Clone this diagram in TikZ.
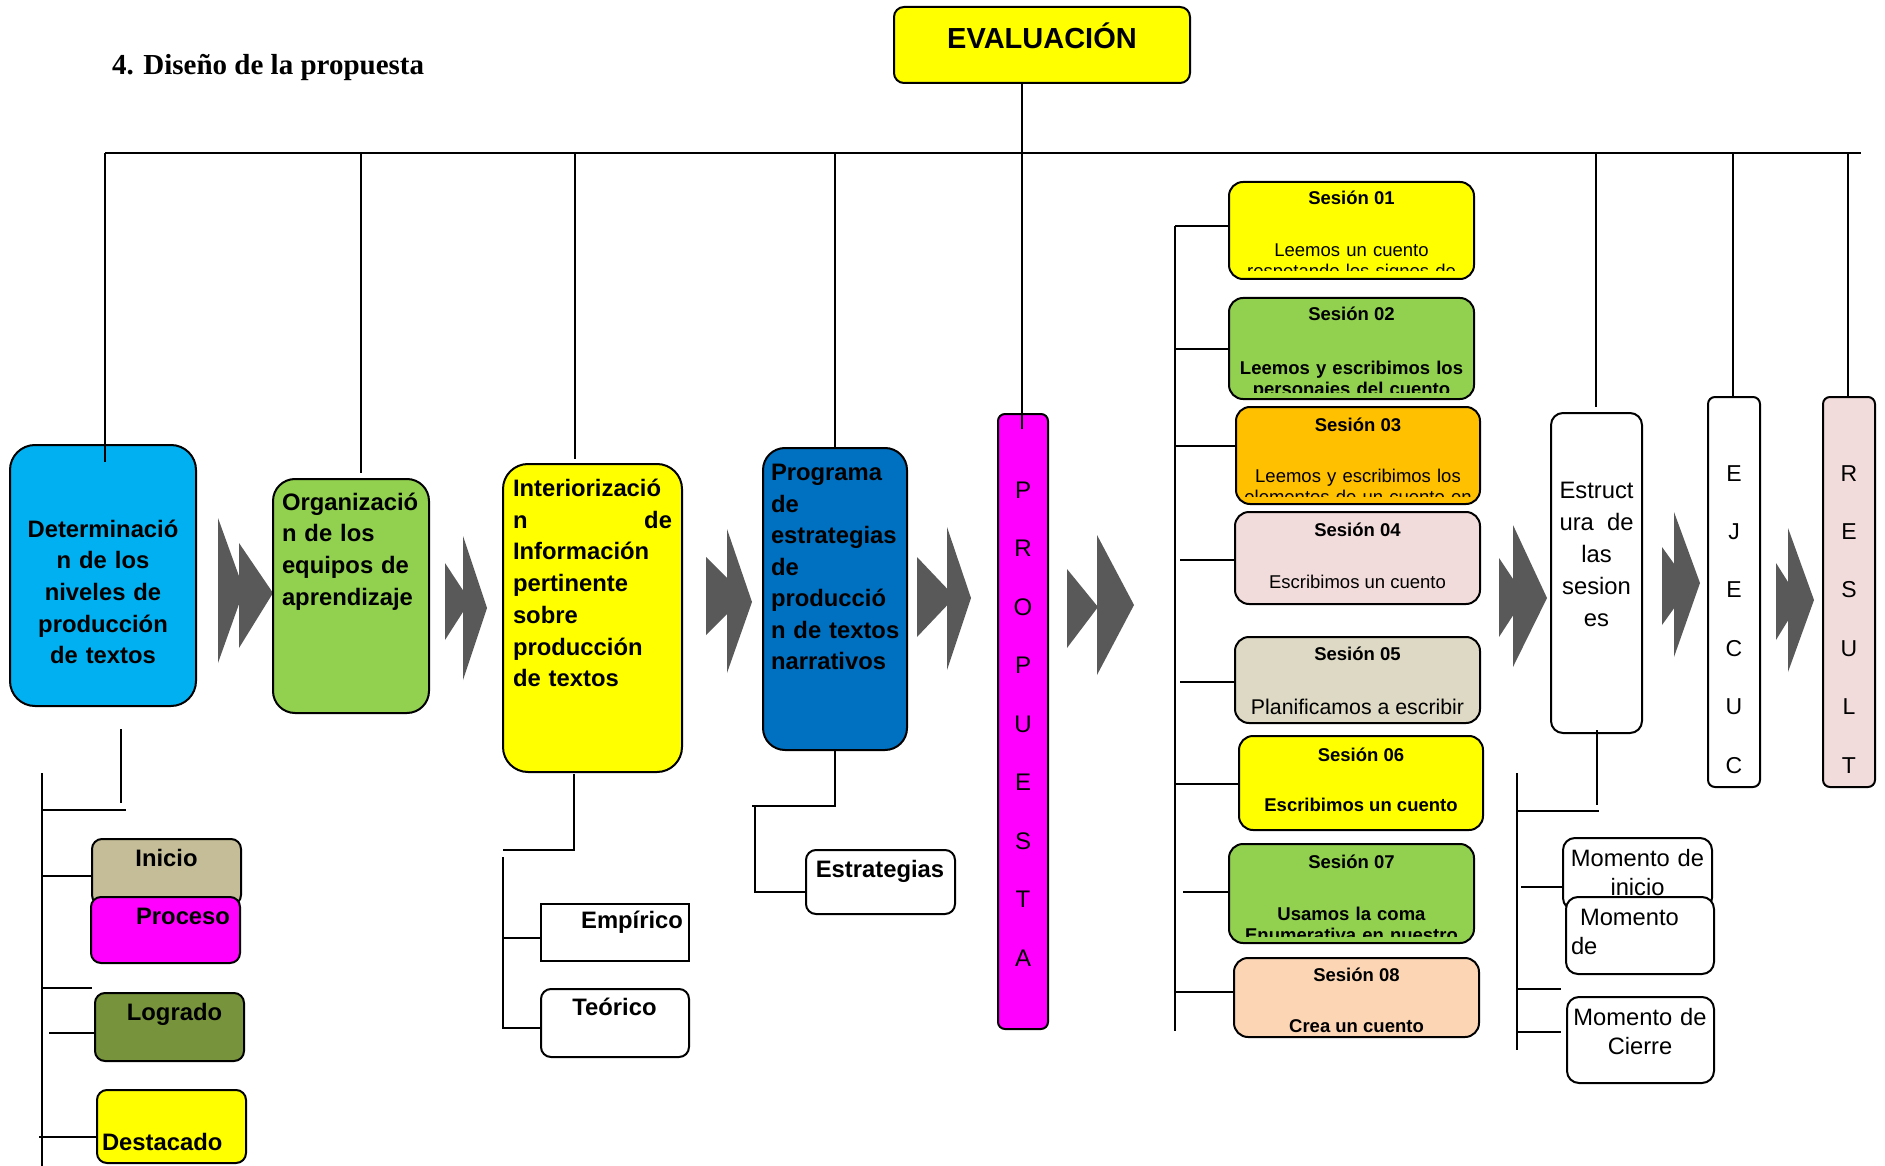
\documentclass[tikz,border=0pt]{standalone}
\usepackage{fontspec}
\setmainfont{Liberation Sans}
\newfontfamily\serifft{Liberation Serif}
\definecolor{cblue}{HTML}{00B0F0}
\definecolor{cgreen}{HTML}{92D050}
\definecolor{cyel}{HTML}{FFFF00}
\definecolor{cdblue}{HTML}{0070C0}
\definecolor{cmag}{HTML}{FF00FF}
\definecolor{corange}{HTML}{FFC000}
\definecolor{cpink}{HTML}{F2DCDB}
\definecolor{ctan}{HTML}{DDD9C4}
\definecolor{cpeach}{HTML}{FCD5B5}
\definecolor{ckhaki}{HTML}{C4BD97}
\definecolor{colive}{HTML}{77933C}
\definecolor{cgray}{HTML}{595959}
\begin{document}
\begin{tikzpicture}[x=1pt,y=-1pt,
  bx/.style={draw=black, line width=2pt, inner sep=0pt, outer sep=0pt, anchor=north west},
  ln/.style={draw=black, line width=2pt},
  chev/.style={fill=cgray},
  tx/.style={inner sep=0pt, outer sep=0pt},
  bigb/.style={font=\fontsize{23.8}{31.7}\selectfont\bfseries},
  bigr/.style={font=\fontsize{23.7}{29}\selectfont},
  sesb/.style={font=\fontsize{18.5}{21}\selectfont\bfseries},
  sesr/.style={font=\fontsize{18.5}{21}\selectfont},
]
\useasboundingbox (0,0) rectangle (1885,1166);

% ---------- chevrons ----------
\fill[chev] (218,518) -- (244,590) -- (218,663) -- cycle;
\fill[chev] (239,543) -- (273,593) -- (239,648) -- cycle;
\fill[chev] (445,563) -- (470,601) -- (445,640) -- cycle;
\fill[chev] (463,536) -- (487,608) -- (463,680) -- cycle;
\fill[chev] (706,557) -- (745,596) -- (706,635) -- cycle;
\fill[chev] (727,529) -- (752,602) -- (727,673) -- cycle;
\fill[chev] (917,557) -- (955,597) -- (917,637) -- cycle;
\fill[chev] (947,527) -- (971,598) -- (947,670) -- cycle;
\fill[chev] (1067,569) -- (1098,607) -- (1067,648) -- cycle;
\fill[chev] (1097,535) -- (1134,605) -- (1097,675) -- cycle;
\fill[chev] (1499,558) -- (1525,597) -- (1499,637) -- cycle;
\fill[chev] (1513,525) -- (1547,598) -- (1513,667) -- cycle;
\fill[chev] (1662,547) -- (1690,586) -- (1662,625) -- cycle;
\fill[chev] (1674,512) -- (1700,583) -- (1674,657) -- cycle;
\fill[chev] (1776,563) -- (1800,601) -- (1776,640) -- cycle;
\fill[chev] (1788,528) -- (1814,600) -- (1788,672) -- cycle;

% ---------- boxes ----------
\node[bx, rounded corners=10pt, fill=cyel, minimum width=296pt, minimum height=76pt] (eval) at (894,7) {};
\node[bx, rounded corners=25pt, fill=cblue, minimum width=186pt, minimum height=261pt] (b1) at (10,445) {};
\node[bx, rounded corners=22pt, fill=cgreen, minimum width=156pt, minimum height=234pt] (b2) at (273,479) {};
\node[bx, rounded corners=25pt, fill=cyel, minimum width=179pt, minimum height=308pt] (b3) at (503,464) {};
\node[bx, rounded corners=22pt, fill=cdblue, minimum width=144pt, minimum height=302pt] (b4) at (763,448) {};
\node[bx, rounded corners=7pt, fill=cmag, minimum width=50pt, minimum height=615pt] (prop) at (998,414) {};

\node[bx, rounded corners=14pt, fill=cyel, minimum width=245pt, minimum height=97pt] (s1) at (1229,182) {};
\node[bx, rounded corners=14pt, fill=cgreen, minimum width=245pt, minimum height=101pt] (s2) at (1229,298) {};
\node[bx, rounded corners=14pt, fill=corange, minimum width=244pt, minimum height=97pt] (s3) at (1236,407) {};
\node[bx, rounded corners=14pt, fill=cpink, minimum width=245pt, minimum height=92pt] (s4) at (1235,512) {};
\node[bx, rounded corners=14pt, fill=ctan, minimum width=245pt, minimum height=86pt] (s5) at (1235,637) {};
\node[bx, rounded corners=14pt, fill=cyel, minimum width=244pt, minimum height=94pt] (s6) at (1239,736) {};
\node[bx, rounded corners=14pt, fill=cgreen, minimum width=245pt, minimum height=99pt] (s7) at (1229,844) {};
\node[bx, rounded corners=14pt, fill=cpeach, minimum width=245pt, minimum height=79pt] (s8) at (1234,958) {};

\node[bx, rounded corners=12pt, fill=white, minimum width=91pt, minimum height=320pt] (est) at (1551,413) {};
\node[bx, rounded corners=7pt, fill=white, minimum width=52pt, minimum height=390pt] (ej) at (1708,397) {};
\node[bx, rounded corners=7pt, fill=cpink, minimum width=52pt, minimum height=390pt] (res) at (1823,397) {};

\node[bx, rounded corners=10pt, fill=ckhaki, minimum width=149pt, minimum height=66pt] (ini) at (92,839) {};
\node[bx, rounded corners=10pt, fill=cmag, minimum width=149pt, minimum height=66pt] (pro) at (91,897) {};
\node[bx, rounded corners=10pt, fill=colive, minimum width=149pt, minimum height=68pt] (log) at (95,993) {};
\node[bx, rounded corners=10pt, fill=cyel, minimum width=149pt, minimum height=73pt] (des) at (97,1090) {};

\node[bx, fill=white, minimum width=148pt, minimum height=57pt] (emp) at (541,904) {};
\node[bx, rounded corners=10pt, fill=white, minimum width=148pt, minimum height=68pt] (teo) at (541,989) {};
\node[bx, rounded corners=10pt, fill=white, minimum width=149pt, minimum height=64pt] (estr) at (806,850) {};

\node[bx, rounded corners=12pt, fill=white, minimum width=149pt, minimum height=72pt] (m1) at (1563,838) {};
\node[bx, rounded corners=12pt, fill=white, minimum width=147pt, minimum height=86pt] (m3) at (1567,997) {};

% ---------- connectors ----------
\coordinate (busL) at (105,153);
\coordinate (busR) at (1861,153);
\draw[line width=2.5pt] (busL) -- (busR);
\draw[ln] (busL) -- (105,462);
\draw[ln] (361,153) -- (361,473);
\draw[ln] (575,153) -- (575,459);
\draw[ln] (835,153) -- (b4.north -| 835,0);
\draw[ln] (1022,83) -- (1022,429);
\draw[ln] (1596,153) -- (1596,407);
\draw[ln] (1733,153) -- (ej.north -| 1733,0);
\draw[ln] (1848,153) -- (res.north -| 1848,0);

% sessions
\draw[ln] (1175,226) -- (1175,1031);
\draw[ln] (1175,226) -- (s1.west |- 0,226);
\draw[ln] (1175,349) -- (s2.west |- 0,349);
\draw[ln] (1175,446) -- (s3.west |- 0,446);
\draw[ln] (1180,560) -- (s4.west |- 0,560);
\draw[ln] (1180,682) -- (s5.west |- 0,682);
\draw[ln] (1175,784) -- (s6.west |- 0,784);
\draw[ln] (1183,892) -- (s7.west |- 0,892);
\draw[ln] (1175,992) -- (s8.west |- 0,992);

% left bottom
\draw[ln] (121,729) -- (121,803);
\draw[ln] (43,810) -- (126,810);
\draw[ln] (42,773) -- (42,1166);
\draw[ln] (42,876) -- (ini.west |- 0,876);
\draw[ln] (42,988) -- (92,988);
\draw[ln] (49,1033) -- (log.west |- 0,1033);
\draw[ln] (39,1137) -- (des.west |- 0,1137);

% middle bottom
\draw[ln] (574,774) -- (574,850) -- (503,850);
\draw[ln] (503,857) -- (503,1029);
\draw[ln] (503,938) -- (emp.west |- 0,938);
\draw[ln] (503,1028) -- (teo.west |- 0,1028);
\draw[ln] (835,750) -- (835,806) -- (752,806);
\draw[ln] (755,806) -- (755,892) -- (estr.west |- 0,892);

% right bottom
\draw[ln] (1597,730) -- (1597,805);
\draw[ln] (1516,811) -- (1599,811);
\draw[ln] (1517,773) -- (1517,1050);
\draw[ln] (1521,887) -- (m1.west |- 0,887);
\draw[ln] (1516,989) -- (1561,989);
\draw[ln] (1516,1032) -- (1561,1032);

% ---------- texts ----------
\node[tx, font=\serifft\fontsize{29}{34}\selectfont\bfseries, anchor=base west] (title) at (112,75) {4. Diseño de la propuesta};
\node[tx, font=\fontsize{29}{34}\selectfont\bfseries, anchor=base] (evt) at (1042,48.4) {EVALUACIÓN};

\node[tx, bigb, text width=186pt, align=center, anchor=base] (t1) at (103,537) {Determinació\\n de los\\niveles de\\producción\\de textos};
\node[tx, bigb, text width=150pt, align=left, anchor=base west] (t2) at (282,510) {Organizació\\n de los\\equipos de\\aprendizaje};
\node[tx, bigb, text width=159pt, align=left, anchor=base west] (t3) at (513,496.5) {Interiorizació\\\makebox[159pt]{n\hfill de}\\Información\\pertinente\\sobre\\producción\\de textos};
\node[tx, font=\fontsize{23.8}{31.55}\selectfont\bfseries, text width=140pt, align=left, anchor=base west] (t4) at (771,480.5) {Programa\\de\\estrategias\\de\\producció\\n de textos\\narrativos};

\node[tx, font=\fontsize{24}{58.5}\selectfont, text width=40pt, align=center, anchor=base] (tprop) at (1023,498) {P\\R\\O\\P\\U\\E\\S\\T\\A};
\node[tx, font=\fontsize{23}{58.4}\selectfont, text width=40pt, align=center, anchor=base] (tej) at (1734,481) {E\\J\\E\\C\\U\\C};
\node[tx, font=\fontsize{23}{58.4}\selectfont, text width=40pt, align=center, anchor=base] (tres) at (1849,481) {R\\E\\S\\U\\L\\T};

\node[tx, font=\fontsize{23.8}{32}\selectfont, text width=74pt, align=center, anchor=base] (test) at (1596.5,498) {Estruct\\\makebox[74pt]{ura\hfill de}\\las\\sesion\\es};

% sessions text
\node[tx, sesb, anchor=base] (s1a) at (1351.5,205) {Sesión 01};
\begin{scope}
\clip (s1.north west) rectangle ([yshift=8pt]s1.south east);
\node[tx, sesr, text width=240pt, align=center, anchor=base] (s1b) at (1351.5,257) {Leemos un cuento\\respetando los signos de};
\end{scope}
\node[tx, sesb, anchor=base] (s2a) at (1351.5,320) {Sesión 02};
\begin{scope}
\clip (s2.north west) rectangle ([yshift=7pt]s2.south east);
\node[tx, sesb, text width=240pt, align=center, anchor=base] (s2b) at (1351.5,374) {Leemos y escribimos los\\personajes del cuento};
\end{scope}
\node[tx, sesb, anchor=base] (s3a) at (1358,431) {Sesión 03};
\begin{scope}
\clip (s3.north west) rectangle ([yshift=8pt]s3.south east);
\node[tx, sesr, text width=240pt, align=center, anchor=base] (s3b) at (1358,482) {Leemos y escribimos los\\elementos de un cuento en};
\end{scope}
\node[tx, sesb, anchor=base] (s4a) at (1357.5,536) {Sesión 04};
\node[tx, sesr, anchor=base] (s4b) at (1357.5,588) {Escribimos un cuento};
\node[tx, sesb, anchor=base] (s5a) at (1357.5,660) {Sesión 05};
\node[tx, font=\fontsize{21.3}{24}\selectfont, anchor=base] (s5b) at (1357.5,714) {Planificamos a escribir};
\node[tx, sesb, anchor=base] (s6a) at (1361,761) {Sesión 06};
\node[tx, sesb, anchor=base] (s6b) at (1361,811) {Escribimos un cuento};
\node[tx, sesb, anchor=base] (s7a) at (1351.5,868) {Sesión 07};
\begin{scope}
\clip (s7.north west) rectangle ([yshift=7pt]s7.south east);
\node[tx, sesb, text width=240pt, align=center, anchor=base] (s7b) at (1351.5,920) {Usamos la coma\\Enumerativa en nuestro};
\end{scope}
\node[tx, sesb, anchor=base] (s8a) at (1356.5,981) {Sesión 08};
\node[tx, sesb, anchor=base] (s8b) at (1356.5,1032) {Crea un cuento};

% small boxes text
\node[tx, bigb, anchor=base] (tini) at (166.5,866) {Inicio};
\node[tx, bigb, anchor=base east] (tpro) at (230,924) {Proceso};
\node[tx, bigb, anchor=base] (tlog) at (174.5,1020) {Logrado};
\node[tx, bigb, anchor=base west] (tdes) at (102,1150) {Destacado};
\node[tx, bigb, anchor=base east] (temp) at (683,928) {Empírico};
\node[tx, bigb, anchor=base] (tteo) at (614.5,1015) {Teórico};
\node[tx, bigb, anchor=base] (testr) at (880,877) {Estrategias};

% momentos
\node[tx, bigr, text width=149pt, align=center, anchor=base] (tm1) at (1637.5,866) {Momento de\\inicio};
\node[bx, fill=white, rounded corners=12pt, minimum width=148pt, minimum height=77pt] (m2) at (1566,897) {};
\node[tx, bigr, text width=140pt, align=left, anchor=base west] (tm2) at (1571,925) {\hspace*{9pt}Momento\\de};
\node[tx, bigr, text width=147pt, align=center, anchor=base] (tm3) at (1640,1025) {Momento de\\Cierre};
\end{tikzpicture}
\end{document}
